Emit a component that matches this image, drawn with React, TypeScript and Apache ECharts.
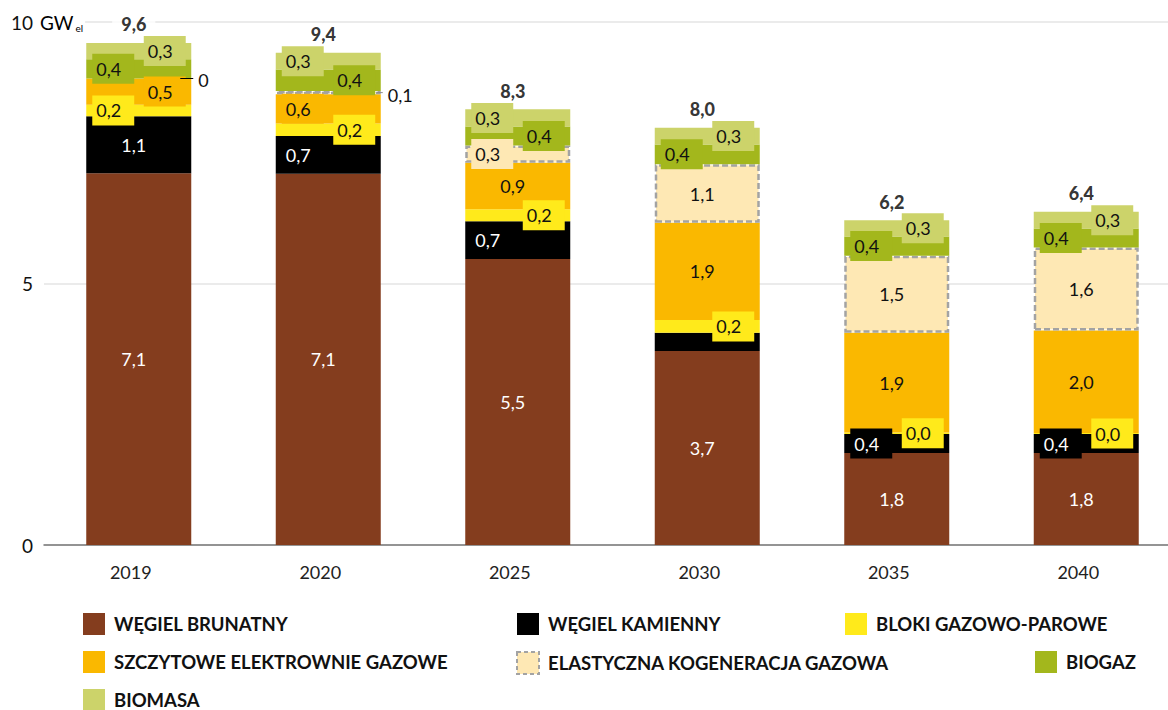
import React, { useEffect, useRef } from "react";
import * as echarts from "echarts";

// Installed capacity by source, GW (el)
const CATEGORIES = ["2019", "2020", "2025", "2030", "2035", "2040"];
const WEGIEL_BRUNATNY = [7.11, 7.1, 5.47, 3.71, 1.76, 1.76];
const WEGIEL_KAMIENNY = [1.09, 0.72, 0.72, 0.35, 0.36, 0.36];
const BLOKI_GAZOWO_PAROWE = [0.22, 0.24, 0.23, 0.24, 0.03, 0.02];
const SZCZYTOWE = [0.5, 0.56, 0.89, 1.86, 1.91, 1.96];
const KOGENERACJA = [0, 0.06, 0.33, 1.12, 1.47, 1.59];
const BIOGAZ = [0.37, 0.41, 0.36, 0.38, 0.37, 0.36];
const BIOMASA = [0.31, 0.32, 0.33, 0.32, 0.31, 0.32];
const Y_TICKS = [0, 5, 10];

// Where each value label sits: C centre, L left tab, R right tab, O outside with a leader, - hidden
const PLACE_BRUNATNY = ["C", "C", "C", "C", "C", "C"];
const PLACE_KAMIENNY = ["C", "L", "L", "-", "L", "L"];
const PLACE_BLOKI = ["L", "R", "R", "R", "R", "R"];
const PLACE_SZCZYTOWE = ["R", "L", "C", "C", "C", "C"];
const PLACE_KOGENERACJA = ["O", "O", "L", "C", "C", "C"];
const PLACE_BIOGAZ = ["L", "R", "R", "L", "L", "L"];
const PLACE_BIOMASA = ["R", "L", "L", "R", "R", "R"];

const FONT = "Lato, 'Noto Sans', sans-serif";

const fmt = (v: number) => (v === 0 ? "0" : v.toFixed(1).replace(".", ","));

type SeriesDef = {
  name: string;
  values: number[];
  place: string[];
  color: string;
  textColor: string;
  dashed?: boolean;
};

const SERIES: SeriesDef[] = [
  { name: "WĘGIEL BRUNATNY", values: WEGIEL_BRUNATNY, place: PLACE_BRUNATNY, color: "#843D1E", textColor: "#ffffff" },
  { name: "WĘGIEL KAMIENNY", values: WEGIEL_KAMIENNY, place: PLACE_KAMIENNY, color: "#000000", textColor: "#ffffff" },
  { name: "BLOKI GAZOWO-PAROWE", values: BLOKI_GAZOWO_PAROWE, place: PLACE_BLOKI, color: "#FFEA1B", textColor: "#111111" },
  { name: "SZCZYTOWE ELEKTROWNIE GAZOWE", values: SZCZYTOWE, place: PLACE_SZCZYTOWE, color: "#FAB800", textColor: "#111111" },
  { name: "ELASTYCZNA KOGENERACJA GAZOWA", values: KOGENERACJA, place: PLACE_KOGENERACJA, color: "#FEE8B4", textColor: "#111111", dashed: true },
  { name: "BIOGAZ", values: BIOGAZ, place: PLACE_BIOGAZ, color: "#A3B71C", textColor: "#111111" },
  { name: "BIOMASA", values: BIOMASA, place: PLACE_BIOMASA, color: "#CCD36A", textColor: "#111111" },
];

const LEGEND_POS: { left: number; top: number }[] = [
  { left: 83, top: 613 },
  { left: 517, top: 613 },
  { left: 845, top: 613 },
  { left: 83, top: 651 },
  { left: 516, top: 651 },
  { left: 1035, top: 651 },
  { left: 83, top: 689 },
];

function labelFor(s: SeriesDef, i: number): any {
  const p = s.place[i];
  const base = {
    show: true,
    fontFamily: FONT,
    fontSize: 18,
    lineHeight: 18,
    color: s.textColor,
  };
  if (p === "-") return { show: false };
  if (p === "C") return { ...base, position: "inside", offset: [-5, 0] };
  if (p === "L" || p === "R") {
    return {
      ...base,
      position: "inside",
      offset: [p === "L" ? -25.5 : 26, 0],
      backgroundColor: s.color,
      padding: [6, 13, 6, 4],
    };
  }
  // outside label with a short leader
  const lead = i === 0 ? { w: 13, c: "#000000", dx: -16 } : { w: 6, c: "#8c8c8c", dx: -9 };
  return {
    show: true,
    position: "right",
    distance: 5,
    offset: [lead.dx, 0],
    formatter: (pr: any) => `{ln|}{v|${fmt(pr.value)}}`,
    rich: {
      ln: { width: lead.w, height: 1, backgroundColor: lead.c },
      v: { fontFamily: FONT, fontSize: 18, color: "#111111", padding: [4, 0, 0, 5] },
    },
  };
}

export default function App() {
  const ref = useRef<HTMLDivElement>(null);

  useEffect(() => {
    if (!ref.current) return;
    const chart = echarts.init(ref.current, null, { renderer: "svg" });

    const totals = CATEGORIES.map((_, i) =>
      SERIES.reduce((acc, s) => acc + s.values[i], 0)
    );

    const barSeries = SERIES.map((s) => ({
      name: s.name,
      type: "bar",
      stack: "moc",
      barWidth: 105,
      itemStyle: s.dashed
        ? { color: s.color, borderColor: "#A3A3A3", borderWidth: 2.5, borderType: [6, 3] }
        : { color: s.color, borderWidth: 0 },
      label: { show: true, formatter: (pr: any) => fmt(pr.value) },
      data: s.values.map((v, i) => {
        const item: any = { value: v, label: labelFor(s, i) };
        if (s.dashed && v === 0) item.itemStyle = { borderWidth: 0 };
        return item;
      }),
    }));

    const legends = SERIES.map((s, i) => ({
      show: true,
      data: [s.name],
      left: LEGEND_POS[i].left,
      top: LEGEND_POS[i].top,
      padding: 0,
      icon: "rect",
      itemWidth: 22,
      itemHeight: 22,
      selectedMode: false,
      itemStyle: s.dashed
        ? { color: s.color, borderColor: "#A3A3A3", borderWidth: 2, borderType: [4, 3] }
        : { color: s.color, borderWidth: 0 },
      textStyle: {
        fontFamily: FONT,
        fontWeight: "bold",
        fontSize: 18.5,
        color: "#111111",
        padding: [0, 0, 0, 4],
      },
    }));

    chart.setOption({
      animation: false,
      backgroundColor: "#ffffff",
      grid: { left: 44, right: 0, top: 22, bottom: 165 },
      legend: legends,
      xAxis: {
        type: "category",
        data: CATEGORIES,
        axisLine: { lineStyle: { color: "#777777", width: 1.5 } },
        axisTick: { show: false },
        axisLabel: {
          fontFamily: FONT,
          fontSize: 18,
          color: "#222222",
          margin: 18,
          padding: [0, 16, 0, 0],
        },
      },
      yAxis: {
        type: "value",
        min: Y_TICKS[0],
        max: Y_TICKS[Y_TICKS.length - 1],
        interval: Y_TICKS[1] - Y_TICKS[0],
        axisLine: { show: false },
        axisTick: { show: false },
        splitLine: { lineStyle: { color: "#E4E4E4", width: 1.5 } },
        axisLabel: {
          fontFamily: FONT,
          fontSize: 19,
          color: "#111111",
          margin: 11,
        },
      },
      graphic: [
        {
          type: "text",
          left: 40,
          top: 11,
          z: 10,
          style: {
            text: "{u|GW}{s|el}",
            backgroundColor: "#ffffff",
            padding: [0, 2, 0, 0],
            rich: {
              u: { fontFamily: FONT, fontSize: 19, color: "#111111", lineHeight: 22 },
              s: { fontFamily: FONT, fontSize: 10, color: "#111111", padding: [12, 0, 0, 2] },
            },
          },
        },
      ],
      series: [
        ...barSeries,
        {
          name: "Suma",
          type: "scatter",
          symbolSize: 1,
          itemStyle: { color: "rgba(0,0,0,0)" },
          z: 5,
          label: {
            show: true,
            position: "top",
            distance: 7,
            offset: [-5, 0],
            fontFamily: FONT,
            fontWeight: 900,
            fontSize: 18,
            lineHeight: 18,
            color: "#000000",
            backgroundColor: "#ffffff",
            padding: [2, 9],
            formatter: (pr: any) => fmt(pr.value),
          },
          data: totals,
        },
      ],
    });

    return () => chart.dispose();
  }, []);

  return (
    <div style={{ position: "absolute", left: 0, top: 0, width: 1168, height: 710, overflow: "hidden" }}>
      <div ref={ref} style={{ width: 1181, height: 710 }} />
    </div>
  );
}
